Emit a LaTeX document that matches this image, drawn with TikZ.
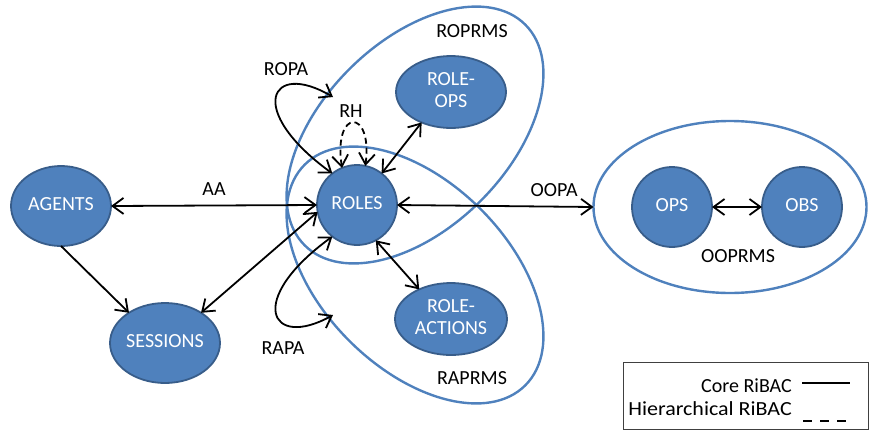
\documentclass[tikz,border=0pt]{standalone}
\usepackage{fontspec}
\setmainfont{Carlito}
\usetikzlibrary{arrows.meta,shapes.geometric}
\definecolor{nodefill}{HTML}{4F81BD}
\definecolor{nodeline}{HTML}{385D8A}
\definecolor{setline}{HTML}{4F81BD}
\newcommand{\inlbl}[1]{\makebox[0pt]{\begin{tabular}{@{}c@{}}#1\end{tabular}}}
\begin{document}
\begin{tikzpicture}[x=1pt,y=-1pt,
  font=\fontsize{20}{22}\selectfont,
  entity/.style={draw=nodeline,fill=nodefill,line width=1.8pt,text=white,inner sep=0pt,outer sep=0pt},
  oval/.style={entity,ellipse},
  round/.style={entity,circle},
  setbox/.style={draw=setline,line width=2.4pt,ellipse,inner sep=0pt,outer sep=0pt},
  tip/.tip={Straight Barb[length=11pt,width=16pt,line width=1.8pt]},
  link/.style={line width=1.8pt,tip-tip},
  onelink/.style={line width=1.8pt,-tip},
  hier/.style={link,dash pattern=on 6pt off 4pt},
  lbl/.style={inner sep=0pt}]
\useasboundingbox (0,0) rectangle (871,432);

% permission sets
\node[setbox,minimum width=312pt,minimum height=186pt,rotate=45] (roprms) at (415,135) {};
\node[setbox,minimum width=312pt,minimum height=186pt,rotate=-45] (raprms) at (415,275) {};
\node[setbox,minimum width=273pt,minimum height=172pt] (ooprms) at (730,207) {};

% entities
\node[oval,minimum width=100pt,minimum height=80pt] (agents) at (61,206) {\inlbl{AGENTS}};
\node[oval,minimum width=110pt,minimum height=80pt] (sessions) at (165,343) {\inlbl{SESSIONS}};
\node[round,minimum size=80pt] (roles) at (357,205) {\inlbl{ROLES}};
\node[oval,minimum width=110pt,minimum height=72pt] (roleops) at (451,92) {\inlbl{ROLE-\\OPS}};
\node[oval,minimum width=112pt,minimum height=72pt] (roleact) at (451,319) {\inlbl{ROLE-\\ACTIONS}};
\node[round,minimum size=80pt] (ops) at (672,207) {\inlbl{OPS}};
\node[round,minimum size=80pt] (obs) at (802,207) {\inlbl{OBS}};

% set labels
\node[lbl] (roprmsl) at (472,31) {ROPRMS};
\node[lbl] (raprmsl) at (472,378) {RAPRMS};
\node[lbl] (ooprmsl) at (738,256) {OOPRMS};

% assignment relations
\draw[link] (agents.east) -- node[lbl,above=9pt] (aa) {AA} (roles.west);
\draw[onelink] (agents.-90) -- (sessions.140);
\draw[link] (roles.190) -- (sessions.40);
\draw[link] (roles.52) -- (roleops.226);
\draw[link] (roles.-62) -- (roleact.137);
\draw[link] (roles.east) -- node[lbl,above=9pt,pos=0.8] (oopa) {OOPA} (ooprms.west);
\draw[link] (ops) -- (obs);

\coordinate (ropaend) at (333,97);
\coordinate (rapaend) at (333,315);
\draw[link] (roles.128) .. controls (245,110) and (270,60) .. (ropaend);
\draw[link] (roles.232) .. controls (245,300) and (270,350) .. (rapaend);
\node[lbl] (ropa) at (286,69) {ROPA};
\node[lbl] (rapa) at (283,348) {RAPA};

% role hierarchy
\draw[hier] (roles.112) .. controls (333,108) and (373,108) .. (roles.78);
\node[lbl] (rh) at (351,111) {RH};

% legend
\node[draw=black!75,line width=0.8pt,minimum width=245pt,minimum height=67pt,inner sep=0pt] (legend) at (745.5,395.5) {};
\node[lbl,anchor=east] (corel) at (792,386) {Core RiBAC};
\node[lbl,anchor=east] (hierl) at (792,409) {\scalebox{1.1}[1]{Hierarchical RiBAC}};
\draw[line width=1.6pt] (802,383) -- (850,383);
\draw[line width=1.6pt,dash pattern=on 9pt off 8pt] (803,421) -- (846,421);
\end{tikzpicture}
\end{document}
